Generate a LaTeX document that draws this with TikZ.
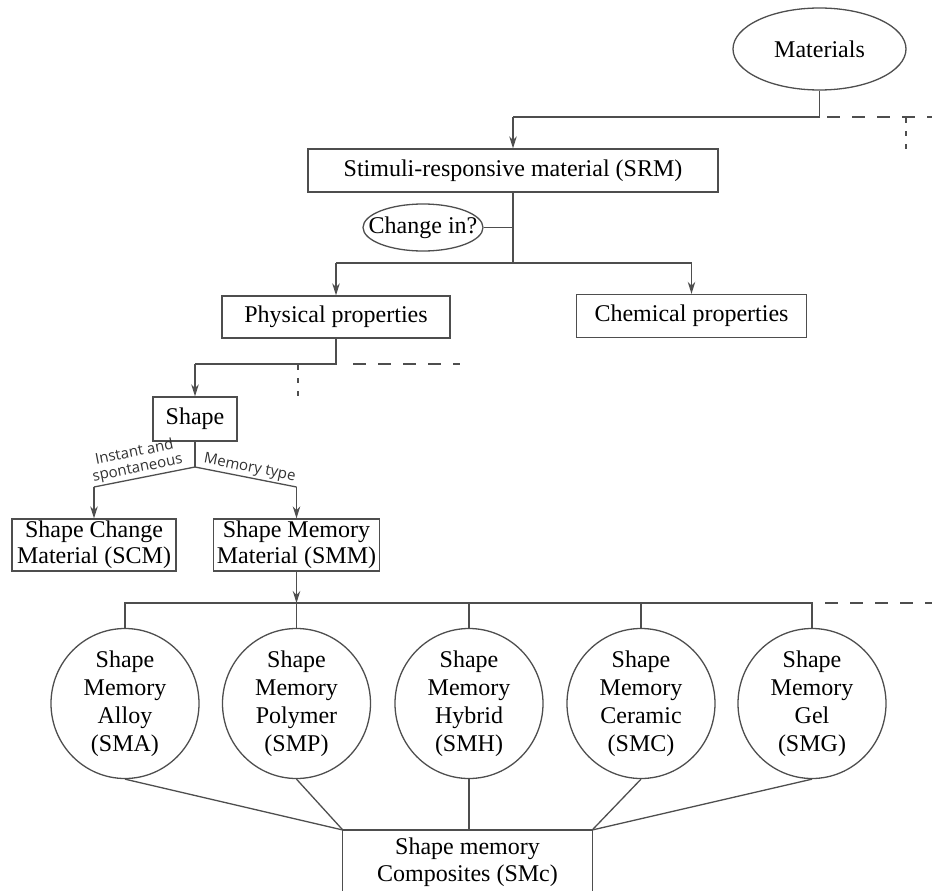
\documentclass[tikz,border=0pt]{standalone}
\usepackage{fontspec}
\setmainfont{Liberation Serif}
\newfontfamily\lblfont{Open Sans}
\usetikzlibrary{shapes.geometric,arrows.meta}
\definecolor{lncol}{RGB}{78,78,78}
\definecolor{lblcol}{RGB}{50,50,50}
\begin{document}
\begin{tikzpicture}[x=1pt,y=-1pt,
  every node/.style={font=\fontsize{24}{26}\selectfont},
  ln/.style={draw=lncol, line width=1.3pt},
  arr/.style={draw=lncol, line width=1.3pt, -{Stealth[length=12pt,width=7.5pt]}},
  boxn/.style={draw=lncol, line width=1.3pt, rectangle, inner sep=0pt, align=center},
  circn/.style={draw=lncol, line width=1.3pt, ellipse, minimum width=148pt, minimum height=150pt, inner sep=0pt},
  ctext/.style={align=center, font=\fontsize{24}{28}\selectfont},
  hdash/.style={draw=lncol, line width=1.3pt, dash pattern=on 13pt off 12pt},
  vdash/.style={draw=lncol, line width=1.3pt, dash pattern=on 5pt off 8pt},
  lbl/.style={font=\lblfont\fontsize{15}{16}\selectfont, text=lblcol, align=center, inner sep=1.5pt}
]
\useasboundingbox (0,0) rectangle (932,891);

% nodes
\node[draw=lncol, line width=1.3pt, ellipse, minimum width=173pt, minimum height=82pt, inner sep=0pt] (mat) at (819.5,49) {Materials};
\node[boxn, minimum width=410pt, minimum height=43pt] (srm) at (513,170.5) {Stimuli-responsive material (SRM)};
\node[draw=lncol, line width=1.3pt, ellipse, minimum width=120pt, minimum height=47pt, inner sep=0pt] (chg) at (423,227.5) {};
\node (chgt) at (chg) {Change in?};
\node[boxn, minimum width=228pt, minimum height=42pt] (phys) at (336,317) {Physical properties};
\node[boxn, minimum width=230pt, minimum height=43pt] (chem) at (691.5,316) {Chemical properties};
\node[boxn, minimum width=84pt, minimum height=44pt] (shape) at (195,419) {Shape};
\node[boxn, minimum width=164pt, minimum height=52pt] (scm) at (94,545) {Shape Change\\Material (SCM)};
\node[boxn, minimum width=166pt, minimum height=52pt] (smm) at (296.5,545) {Shape Memory\\Material (SMM)};

\node[circn] (sma) at (125,703.5) {};
\node[ctext] (smat) at (sma) {Shape\\Memory\\Alloy\\(SMA)};
\node[circn] (smp) at (296.5,703.5) {};
\node[ctext] (smpt) at (smp) {Shape\\Memory\\Polymer\\(SMP)};
\node[circn] (smh) at (469,703.5) {};
\node[ctext] (smht) at (smh) {Shape\\Memory\\Hybrid\\(SMH)};
\node[circn] (smcer) at (641,703.5) {};
\node[ctext] (smcert) at (smcer) {Shape\\Memory\\Ceramic\\(SMC)};
\node[circn] (smg) at (812,703.5) {};
\node[ctext] (smgt) at (smg) {Shape\\Memory\\Gel\\(SMG)};

\node[minimum width=249pt, minimum height=61pt, inner sep=0pt, anchor=north] (comp) at (467.5,830) {};
\node[align=center, font=\fontsize{24}{27}\selectfont] (compt) at (467.5,862) {Shape memory\\Composites (SMc)};
\draw[ln] (comp.south west) -- (comp.north west) -- (comp.north east) -- (comp.south east);

% helper coordinates
\coordinate (ytop) at (0,117);
\coordinate (y2) at (0,263);
\coordinate (y3) at (0,364);
\coordinate (bus) at (0,603);
\coordinate (fork) at (195,467);
\coordinate (lc) at (94,487);
\coordinate (rc) at (296.5,487);
\coordinate (d1a) at (827,117);
\coordinate (d1b) at (932,117);
\coordinate (d2a) at (906,118);
\coordinate (d2b) at (906,149);
\coordinate (d3a) at (353,364);
\coordinate (d3b) at (460,364);
\coordinate (d4a) at (298,365);
\coordinate (d4b) at (298,398);
\coordinate (d5a) at (825,603);
\coordinate (d5b) at (932,603);

% connectors
\draw[ln] (mat.south) -- (mat.south |- ytop) -- (srm.north |- ytop);
\draw[arr] (srm.north |- ytop) -- (srm.north);
\draw[hdash] (d1a) -- (d1b);
\draw[vdash] (d2a) -- (d2b);

\draw[ln] (srm.south) -- (srm.south |- y2);
\draw[ln] (chg.east) -- (chg.east -| srm.south);
\draw[ln] (phys.north |- y2) -- (chem.north |- y2);
\draw[arr] (phys.north |- y2) -- (phys.north);
\draw[arr] (chem.north |- y2) -- (chem.north);

\draw[ln] (phys.south) -- (phys.south |- y3) -- (shape.north |- y3);
\draw[arr] (shape.north |- y3) -- (shape.north);
\draw[hdash] (d3a) -- (d3b);
\draw[vdash] (d4a) -- (d4b);

\draw[ln] (shape.south) -- (fork);
\draw[ln] (lc) -- node[lbl, sloped, above, pos=0.45] {Instant and\\spontaneous} (fork);
\draw[ln] (fork) -- node[lbl, sloped, above, pos=0.52] {Memory type} (rc);
\draw[arr] (lc) -- (scm.north);
\draw[arr] (rc) -- (smm.north);

\draw[ln] (sma.north) -- (sma.north |- bus) -- (smg.north |- bus) -- (smg.north);
\draw[ln] (smp.north) -- (smp.north |- bus);
\draw[ln] (smh.north) -- (smh.north |- bus);
\draw[ln] (smcer.north) -- (smcer.north |- bus);
\draw[arr] (smm.south) -- (smm.south |- bus);
\draw[hdash] (d5a) -- (d5b);

\draw[ln] (sma.south) -- (comp.north west);
\draw[ln] (smp.south) -- (comp.north west);
\draw[ln] (smh.south) -- (smh.south |- comp.north);
\draw[ln] (smcer.south) -- (comp.north east);
\draw[ln] (smg.south) -- (comp.north east);
\end{tikzpicture}
\end{document}
